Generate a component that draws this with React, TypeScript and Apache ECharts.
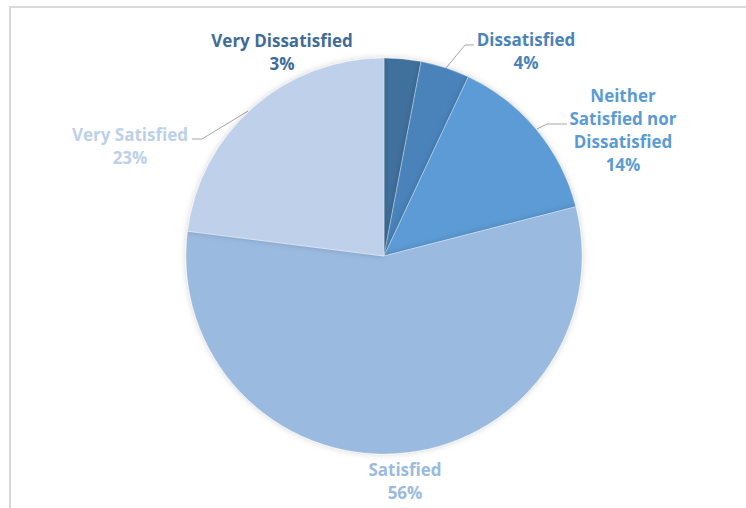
import React, { useEffect, useRef } from "react";
import * as echarts from "echarts";

const categories = [
  "Very Dissatisfied",
  "Dissatisfied",
  "Neither Satisfied nor Dissatisfied",
  "Satisfied",
  "Very Satisfied",
];
const values = [3, 4, 14, 56, 23];
const colors = ["#41709c", "#4a83ba", "#5b9bd5", "#9bbae0", "#bed0ea"];
const labelColors = ["#3f6c98", "#4a83ba", "#5b9bd5", "#9bbae0", "#bcd0ea"];

export default function App() {
  const ref = useRef<HTMLDivElement>(null);
  useEffect(() => {
    if (!ref.current) return;
    const chart = echarts.init(ref.current, undefined, { renderer: "svg" });
    const labelPos: Record<number, any> = {
      0: { x: 282, y: 52, line: null },
      1: { x: 526, y: 51, line: [[446, 68], [465, 45], [474, 45]] },
      2: { x: 623, y: 130, line: [[537, 129], [547, 124], [567, 124]] },
      3: { x: 405, y: 481, line: null },
      4: { x: 130, y: 146, line: [[248, 111], [202, 139], [192, 139]] },
    };
    chart.setOption({
      animation: false,
      backgroundColor: "#ffffff",
      graphic: [
        {
          type: "rect",
          shape: { x: 10, y: 7, width: 900, height: 700 },
          style: { fill: "none", stroke: "#d9d9d9", lineWidth: 2 },
          silent: true,
        },
      ],
      series: [
        {
          type: "pie",
          center: [384, 256],
          radius: [0, 198],
          startAngle: 90,
          clockwise: true,
          data: categories.map((name, i) => ({
            name,
            value: values[i],
            itemStyle: { color: colors[i] },
            label: { color: labelColors[i] },
            labelLine: { show: labelPos[i].line !== null },
          })),
          itemStyle: {
            borderColor: "rgba(255,255,255,0.6)",
            borderWidth: 0.5,
            shadowBlur: 6,
            shadowColor: "rgba(0,0,0,0.18)",
          },
          label: {
            show: true,
            position: "outside",
            fontFamily: "Open Sans",
            fontWeight: "bold",
            fontSize: 17,
            lineHeight: 23,
            align: "center",
            formatter: (p: any) =>
              (p.name === "Neither Satisfied nor Dissatisfied"
                ? "Neither\nSatisfied nor\nDissatisfied"
                : p.name) +
              "\n" +
              p.value +
              "%",
          },
          labelLine: {
            lineStyle: { color: "#a6a6a6", width: 1 },
          },
          labelLayout: (params: any) => {
            const lp = labelPos[params.dataIndex];
            const out: any = {
              x: lp.x,
              y: lp.y,
              align: "center",
              verticalAlign: "middle",
            };
            if (lp.line) out.labelLinePoints = lp.line;
            return out;
          },
        },
      ],
    });
    return () => chart.dispose();
  }, []);
  return (
    <div
      ref={ref}
      style={{ position: "fixed", left: 0, top: 0, width: 746, height: 508 }}
    />
  );
}
